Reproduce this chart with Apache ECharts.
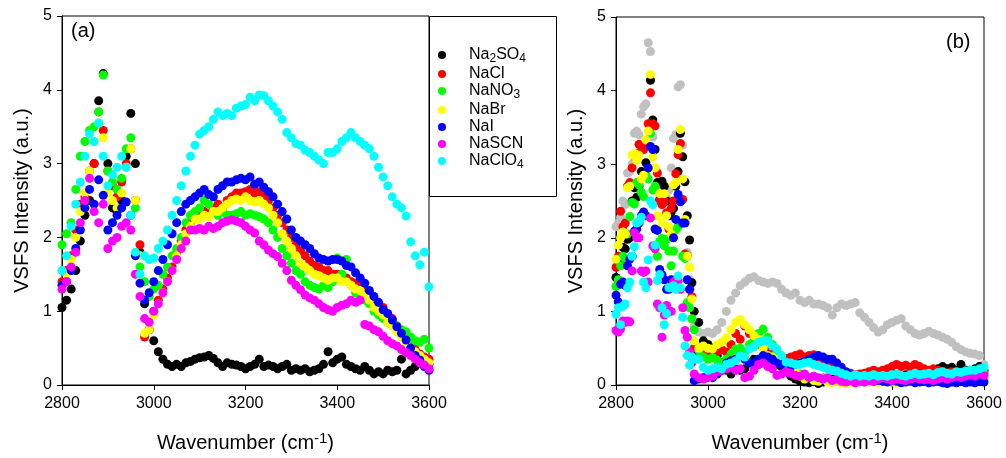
<!DOCTYPE html>
<html><head><meta charset="utf-8">
<script src="https://cdn.jsdelivr.net/npm/echarts@6/dist/echarts.min.js"></script>
<style>html,body{margin:0;padding:0;background:#fff}#c{width:1006px;height:458px}</style>
</head><body><div id="c"></div><script>
// ---------- Panel (a) ----------
const wnA = [2800,2810,2820,2830,2840,2850,2860,2870,2880,2890,
2900,2910,2920,2930,2940,2950,2960,2970,2980,2990,
3000,3010,3020,3030,3040,3050,3060,3070,3080,3090,
3100,3110,3120,3130,3140,3150,3160,3170,3180,3190,
3200,3210,3220,3230,3240,3250,3260,3270,3280,3290,
3300,3310,3320,3330,3340,3350,3360,3370,3380,3390,
3400,3410,3420,3430,3440,3450,3460,3470,3480,3490,
3500,3510,3520,3530,3540,3550,3560,3570,3580,3590,3600];
const na2so4A = [1.05,1.15,1.3,1.55,1.95,2.3,2.5,3.0,3.85,4.22,
3.0,2.4,2.35,2.5,3.1,3.68,3.0,1.8,1.1,0.75,
0.6,0.45,0.35,0.28,0.25,0.28,0.25,0.3,0.32,0.35,
0.37,0.38,0.4,0.36,0.3,0.25,0.3,0.28,0.27,0.25,
0.22,0.25,0.28,0.35,0.25,0.27,0.25,0.22,0.25,0.28,
0.2,0.22,0.2,0.22,0.18,0.2,0.22,0.28,0.45,0.3,
0.35,0.38,0.28,0.25,0.22,0.2,0.25,0.2,0.15,0.18,
0.15,0.2,0.18,0.2,0.35,0.15,0.2,0.25,0.3,0.3,0.28];
const naclA = [1.4,1.55,1.75,2.1,2.45,2.55,2.9,3.0,3.7,3.45,
2.9,2.7,2.55,2.75,3.0,3.2,2.5,1.9,0.65,0.75,
1.0,1.15,1.3,1.45,1.6,1.8,1.95,2.1,2.2,2.3,
2.3,2.35,2.32,2.4,2.45,2.4,2.5,2.55,2.6,2.6,
2.62,2.65,2.6,2.62,2.58,2.5,2.4,2.3,2.2,2.1,
2.0,1.9,1.82,1.75,1.68,1.62,1.6,1.55,1.55,1.5,
1.5,1.45,1.45,1.4,1.38,1.35,1.3,1.25,1.15,1.1,
1.05,0.95,0.9,0.8,0.7,0.62,0.55,0.48,0.42,0.38,0.35];
const nano3A = [1.9,2.05,2.2,2.65,3.1,3.3,3.45,3.5,3.7,4.2,
2.9,2.75,2.65,2.8,3.2,3.35,2.4,1.6,1.4,1.2,
1.3,1.35,1.5,1.6,1.75,1.85,2.0,2.2,2.3,2.35,
2.4,2.5,2.45,2.35,2.3,2.35,2.3,2.3,2.32,2.35,
2.3,2.32,2.3,2.28,2.25,2.2,2.1,2.0,1.85,1.75,
1.65,1.55,1.5,1.4,1.35,1.32,1.3,1.35,1.32,1.4,
1.72,1.5,1.7,1.35,1.25,1.2,1.15,1.1,1.0,0.95,
0.9,0.85,0.82,0.8,0.75,0.72,0.65,0.6,0.58,0.62,0.5];
const nabrA = [1.35,1.5,1.7,2.0,2.35,2.6,2.9,3.3,3.55,3.35,
2.6,2.5,2.4,2.6,2.95,3.2,2.5,1.75,0.7,0.75,
0.95,1.1,1.25,1.4,1.55,1.75,1.9,2.05,2.15,2.25,
2.25,2.3,2.28,2.35,2.35,2.4,2.45,2.5,2.52,2.5,
2.55,2.5,2.48,2.5,2.45,2.4,2.3,2.2,2.05,1.95,
1.85,1.75,1.65,1.6,1.55,1.5,1.48,1.45,1.42,1.45,
1.45,1.4,1.4,1.35,1.3,1.28,1.2,1.15,1.05,1.0,
0.95,0.85,0.8,0.72,0.65,0.58,0.5,0.45,0.4,0.35,0.3];
const naiA = [1.35,1.4,1.55,1.85,2.1,2.4,2.65,2.45,2.78,2.57,
2.1,2.2,2.3,2.4,2.48,2.3,1.75,1.38,1.15,1.25,
1.4,1.55,1.7,1.9,2.05,2.2,2.35,2.45,2.5,2.55,
2.6,2.65,2.58,2.55,2.65,2.7,2.75,2.75,2.78,2.8,
2.78,2.82,2.72,2.75,2.68,2.62,2.55,2.45,2.35,2.25,
2.1,2.0,1.95,1.9,1.85,1.78,1.72,1.7,1.68,1.7,
1.7,1.68,1.62,1.6,1.52,1.45,1.38,1.28,1.2,1.12,
1.02,0.97,0.88,0.79,0.7,0.61,0.5,0.4,0.34,0.25,0.2];
const nascnA = [1.3,1.4,1.6,1.8,2.2,2.5,2.8,2.35,2.2,2.45,
1.85,1.95,2.0,2.15,2.2,2.1,1.5,1.2,0.9,0.85,
1.0,1.1,1.25,1.4,1.55,1.7,1.85,1.95,2.1,2.1,
2.12,2.1,2.15,2.12,2.15,2.2,2.22,2.24,2.22,2.2,
2.15,2.1,2.06,1.95,1.9,1.83,1.78,1.74,1.65,1.55,
1.42,1.35,1.29,1.22,1.18,1.15,1.1,1.05,1.02,1.0,
1.05,1.08,1.1,1.15,1.12,1.15,0.82,0.8,0.75,0.72,
0.66,0.6,0.56,0.53,0.48,0.44,0.4,0.35,0.3,0.27,0.22];
const naclo4A = [1.55,1.75,2.15,2.45,2.75,3.1,3.4,3.3,3.55,3.1,
2.7,2.85,2.95,3.1,2.95,2.3,1.8,1.5,1.75,1.7,
1.72,1.85,1.95,2.1,2.3,2.5,2.7,2.9,3.1,3.25,
3.4,3.45,3.5,3.6,3.7,3.65,3.68,3.65,3.75,3.78,
3.8,3.9,3.85,3.93,3.92,3.85,3.78,3.7,3.6,3.42,
3.35,3.27,3.25,3.18,3.15,3.1,3.05,3.0,3.15,3.15,
3.2,3.3,3.35,3.42,3.35,3.3,3.25,3.2,3.1,2.95,
2.82,2.7,2.55,2.45,2.4,2.29,1.94,1.75,1.63,1.8,1.33];

// ---------- Panel (b) ----------
const wnB = [2800,2805,2810,2815,2820,2825,2830,2835,2840,2845,
2850,2855,2860,2865,2870,2875,2880,2885,2890,2895,
2900,2905,2910,2915,2920,2925,2930,2935,2940,2945,
2950,2955,2960,2965,2970,
2980,2990,3000,3010,3020,3030,3040,3050,3060,3070,
3080,3090,3100,3110,3120,3130,3140,3150,3160,3170,
3180,3190,3200,3210,3220,3230,3240,3250,3260,3270,
3280,3290,3300,3310,3320,3330,3340,3350,3360,3370,
3380,3390,3400,3410,3420,3430,3440,3450,3460,3470,
3480,3490,3500,3510,3520,3530,3540,3550,3560,3570,
3580,3590,3600];
const referenceB = [2.15,2.2,2.28,2.5,2.45,2.88,2.9,3.0,3.42,3.45,
3.4,3.68,3.78,3.82,4.65,4.53,3.37,2.95,2.74,2.72,
2.56,2.48,2.55,2.65,2.95,3.35,3.4,4.05,4.08,3.26,
2.22,1.8,1.43,0.9,0.8,
0.72,0.7,0.72,0.7,0.75,0.85,1.0,1.15,1.25,1.35,
1.4,1.45,1.47,1.42,1.4,1.38,1.4,1.38,1.3,1.25,
1.22,1.25,1.15,1.12,1.15,1.1,1.1,1.08,1.05,0.95,
1.05,1.1,1.08,1.1,1.12,0.98,0.92,0.85,0.78,0.72,
0.75,0.82,0.85,0.88,0.9,0.8,0.75,0.7,0.68,0.7,
0.73,0.7,0.68,0.65,0.62,0.58,0.52,0.48,0.45,0.43,
0.42,0.4,0.28];
const na2so4B = [1.46,1.42,1.65,1.87,1.85,1.98,2.0,2.5,2.68,2.55,
2.7,2.9,2.85,3.02,2.95,4.14,3.6,3.2,2.75,2.52,
2.77,2.7,2.5,2.3,2.35,2.4,2.7,2.9,3.42,3.1,
2.76,2.3,1.97,1.39,1.0,
0.85,0.6,0.55,0.5,0.4,0.3,0.2,0.15,0.22,0.2,
0.22,0.3,0.35,0.28,0.38,0.35,0.3,0.28,0.25,0.2,
0.12,0.08,0.05,0.04,0.03,0.05,0.02,0.04,0.05,0.08,
0.06,0.08,0.05,0.07,0.1,0.08,0.06,0.08,0.1,0.12,
0.1,0.12,0.15,0.12,0.1,0.14,0.12,0.15,0.12,0.15,
0.18,0.2,0.22,0.25,0.22,0.24,0.2,0.28,0.2,0.18,
0.22,0.25,0.2];
const naclB = [1.6,1.75,2.36,2.15,2.2,2.7,2.75,2.95,3.1,3.15,
3.27,3.25,3.2,3.25,3.55,3.97,3.55,3.52,2.88,2.5,
2.45,2.5,2.34,2.12,2.4,2.5,2.87,3.13,3.28,2.52,
1.78,1.75,1.3,1.2,0.5,
0.5,0.45,0.4,0.42,0.45,0.48,0.45,0.55,0.7,0.62,
0.8,0.7,0.6,0.55,0.5,0.45,0.42,0.4,0.38,0.36,
0.38,0.4,0.42,0.38,0.4,0.41,0.38,0.35,0.3,0.25,
0.2,0.18,0.15,0.16,0.14,0.15,0.16,0.18,0.2,0.18,
0.2,0.22,0.25,0.28,0.25,0.27,0.24,0.28,0.25,0.22,
0.2,0.22,0.2,0.18,0.16,0.18,0.15,0.17,0.18,0.2,
0.18,0.2,0.17];
const nano3B = [1.34,1.43,1.62,1.75,1.72,2.05,2.29,2.48,2.46,2.75,
2.72,2.62,2.56,2.85,2.8,3.42,2.65,2.7,1.75,1.95,
1.99,1.89,1.98,1.82,1.62,1.82,2.11,2.15,2.2,1.75,
1.72,1.12,1.05,0.9,0.75,
0.45,0.38,0.35,0.37,0.34,0.3,0.35,0.42,0.49,0.5,
0.45,0.55,0.6,0.7,0.76,0.65,0.55,0.45,0.35,0.28,
0.22,0.18,0.15,0.12,0.1,0.12,0.08,0.1,0.08,0.06,
0.05,0.06,0.04,0.05,0.03,0.05,0.04,0.06,0.05,0.04,
0.06,0.05,0.04,0.06,0.05,0.07,0.05,0.04,0.06,0.05,
0.05,0.06,0.08,0.07,0.06,0.08,0.1,0.12,0.1,0.12,
0.14,0.12,0.15];
const nabrB = [1.71,1.9,2.0,2.08,2.05,2.68,2.7,3.12,3.15,3.05,
3.12,2.8,2.85,3.33,3.45,4.22,3.1,2.95,2.3,2.6,
2.2,2.6,2.3,2.15,2.05,2.72,2.75,3.2,3.47,2.8,
2.25,1.75,1.6,1.17,0.6,
0.5,0.53,0.5,0.49,0.55,0.58,0.64,0.75,0.85,0.89,
0.82,0.75,0.67,0.62,0.5,0.4,0.38,0.35,0.3,0.28,
0.22,0.18,0.12,0.08,0.1,0.06,0.05,0.08,0.04,0.03,
0.05,0.03,0.02,0.04,0.03,0.05,0.06,0.04,0.05,0.03,
0.05,0.04,0.06,0.02,0.03,0.05,0.04,0.06,0.05,0.07,
0.06,0.08,0.05,0.07,0.06,0.05,0.08,0.06,0.07,0.09,
0.08,0.1,0.08];
const naiB = [1.22,1.13,1.37,1.4,1.35,1.62,1.71,1.75,2.09,2.12,
2.2,2.3,2.35,2.3,2.95,3.24,3.2,2.12,2.1,1.57,
1.5,1.43,1.3,1.3,1.43,2.0,2.25,2.59,2.49,2.2,
2.2,1.43,1.3,0.4,0.06,
0.08,0.1,0.12,0.1,0.15,0.2,0.3,0.33,0.35,0.4,
0.35,0.3,0.3,0.35,0.4,0.38,0.35,0.3,0.28,0.3,
0.25,0.28,0.3,0.32,0.35,0.38,0.4,0.38,0.35,0.35,
0.3,0.24,0.18,0.14,0.12,0.1,0.08,0.06,0.05,0.06,
0.05,0.04,0.06,0.05,0.03,0.04,0.05,0.03,0.04,0.05,
0.03,0.04,0.05,0.03,0.02,0.04,0.03,0.05,0.03,0.04,
0.03,0.05,0.04];
const nascnB = [0.74,0.72,0.76,0.87,0.85,0.87,0.86,1.55,2.07,2.0,
2.0,1.55,1.53,1.55,1.4,2.27,1.89,1.85,1.1,1.05,
0.65,0.95,1.08,1.0,1.0,1.4,1.42,1.41,1.3,1.05,
0.74,0.65,0.45,0.3,0.15,
0.1,0.08,0.1,0.12,0.18,0.2,0.22,0.24,0.2,0.22,
0.1,0.12,0.2,0.28,0.3,0.25,0.22,0.13,0.15,0.18,
0.16,0.13,0.12,0.15,0.1,0.12,0.1,0.08,0.1,0.06,
0.08,0.05,0.04,0.06,0.03,0.05,0.04,0.06,0.05,0.08,
0.1,0.08,0.06,0.08,0.07,0.06,0.08,0.1,0.08,0.07,
0.08,0.06,0.08,0.1,0.08,0.1,0.12,0.1,0.12,0.14,
0.12,0.15,0.13];
const naclo4B = [0.96,1.05,0.82,1.07,1.1,1.32,1.4,1.75,1.88,2.2,
2.22,2.28,1.4,1.32,1.7,2.5,2.45,1.9,1.42,1.5,
1.05,0.82,0.97,1.32,1.32,1.35,1.3,1.48,1.32,0.92,
0.53,0.4,0.27,0.38,0.35,
0.35,0.24,0.2,0.22,0.24,0.22,0.28,0.3,0.33,0.4,
0.38,0.49,0.52,0.58,0.6,0.6,0.53,0.49,0.4,0.31,
0.3,0.28,0.28,0.3,0.31,0.28,0.26,0.24,0.22,0.2,
0.19,0.16,0.14,0.12,0.14,0.12,0.13,0.12,0.14,0.12,
0.13,0.12,0.14,0.15,0.13,0.12,0.14,0.16,0.14,0.15,
0.16,0.14,0.17,0.18,0.16,0.15,0.18,0.17,0.19,0.2,
0.2,0.22,0.24];

const saltNames = ['Na2SO4','NaCl','NaNO3','NaBr','NaI','NaSCN','NaClO4'];
const saltColors = ['#000000','#ff0000','#00ff00','#ffff00','#0000ff','#ff00ff','#00ffff'];
const referenceColor = '#c0c0c0';
const xTicks = [2800, 3600, 200];
const yTicks = [0, 5, 1];

const seriesA = [na2so4A, naclA, nano3A, nabrA, naiA, nascnA, naclo4A];
const seriesB = [na2so4B, naclB, nano3B, nabrB, naiB, nascnB, naclo4B];

const FONT = '"Liberation Sans", Arial, Helvetica, sans-serif';
const zip = (xs, ys) => xs.map((x, i) => [x, ys[i]]);

function makeX(gi) {
  return {
    gridIndex: gi, type: 'value', min: xTicks[0], max: xTicks[1], interval: xTicks[2],
    axisLine: { onZero: false, lineStyle: { color: '#000', width: 1 } },
    axisTick: { length: 5, lineStyle: { color: '#000' } },
    axisLabel: { fontSize: 16, color: '#000', margin: 11, fontFamily: FONT, formatter: v => String(v) },
    splitLine: { show: false },
    name: '{a|Wavenumber (cm}{p|-1}{a|)}', nameLocation: 'middle', nameGap: 46,
    nameTextStyle: { rich: {
      a: { fontSize: 20, lineHeight: 24, color: '#000', fontFamily: FONT },
      p: { fontSize: 15, lineHeight: 15, color: '#000', fontFamily: FONT, verticalAlign: 'top' }
    } }
  };
}
function makeY(gi) {
  return {
    gridIndex: gi, type: 'value', min: yTicks[0], max: yTicks[1], interval: yTicks[2],
    axisLine: { show: true, onZero: false, lineStyle: { color: '#000', width: 1 } },
    axisTick: { show: true, length: 5, lineStyle: { color: '#000' } },
    axisLabel: { fontSize: 16, color: '#000', margin: 10, fontFamily: FONT },
    splitLine: { show: false },
    name: 'VSFS Intensity (a.u.)', nameLocation: 'middle', nameGap: 30,
    nameTextStyle: { fontSize: 20, color: '#000', fontFamily: FONT }
  };
}

const SYM = 9;
const series = [];
saltNames.forEach((n, i) => {
  series.push({ type: 'scatter', name: n, xAxisIndex: 0, yAxisIndex: 0,
    data: zip(wnA, seriesA[i]), symbol: 'circle', symbolSize: SYM,
    itemStyle: { color: saltColors[i], opacity: 1 }, z: 2 + i });
});
series.push({ type: 'scatter', name: 'Reference', xAxisIndex: 1, yAxisIndex: 1,
  data: zip(wnB, referenceB), symbol: 'circle', symbolSize: SYM,
  itemStyle: { color: referenceColor, opacity: 1 }, z: 2 });
saltNames.forEach((n, i) => {
  series.push({ type: 'scatter', name: n, xAxisIndex: 1, yAxisIndex: 1,
    data: zip(wnB, seriesB[i]), symbol: 'circle', symbolSize: SYM,
    itemStyle: { color: saltColors[i], opacity: 1 }, z: 3 + i });
});

const richLegend = {
  'Na2SO4': '{n|Na}{s|2}{n|SO}{s|4}',
  'NaNO3': '{n|NaNO}{s|3}',
  'NaClO4': '{n|NaClO}{s|4}'
};

const chart = echarts.init(document.getElementById('c'), null, { renderer: 'canvas' });
chart.setOption({
  animation: false,
  backgroundColor: '#fff',
  grid: [
    { left: 62, top: 16, width: 367, height: 369, show: true, borderColor: '#000', borderWidth: 1, backgroundColor: 'transparent' },
    { left: 616, top: 17, width: 368, height: 369, show: true, borderColor: '#000', borderWidth: 1, backgroundColor: 'transparent' }
  ],
  xAxis: [makeX(0), makeX(1)],
  yAxis: [makeY(0), makeY(1)],
  legend: {
    data: saltNames, orient: 'vertical', left: 433, top: 42,
    icon: 'circle', itemWidth: 44, itemHeight: 8, itemGap: 1,
    selectedMode: false,
    formatter: n => richLegend[n] || ('{n|' + n + '}'),
    textStyle: { color: '#000', fontFamily: FONT, fontSize: 16, rich: {
      n: { fontSize: 16, lineHeight: 20, color: '#000', fontFamily: FONT },
      s: { fontSize: 12, lineHeight: 12, color: '#000', fontFamily: FONT, verticalAlign: 'bottom' }
    } }
  },
  graphic: [
    { type: 'rect', shape: { x: 429.5, y: 16.5, width: 127, height: 180 },
      style: { fill: 'rgba(0,0,0,0)', stroke: '#000', lineWidth: 1 }, z: 1 },
    { type: 'text', left: 71, top: 21, style: { text: '(a)', fontSize: 20, fontFamily: FONT, fill: '#000' } },
    { type: 'text', left: 946, top: 32, style: { text: '(b)', fontSize: 20, fontFamily: FONT, fill: '#000' } }
  ],
  series: series
});
</script></body></html>
